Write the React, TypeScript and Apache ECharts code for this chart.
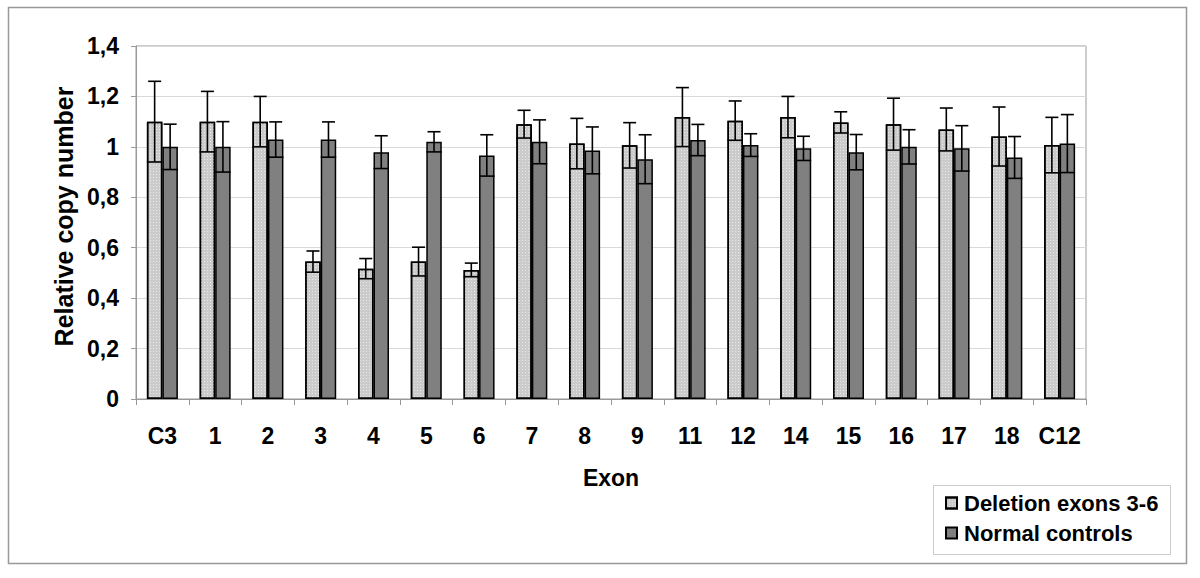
import React, { useEffect, useRef } from "react";
import * as echarts from "echarts";

const categories = ["C3", "1", "2", "3", "4", "5", "6", "7", "8", "9", "11", "12", "14", "15", "16", "17", "18", "C12"];
const deletionValues = [1.10, 1.10, 1.10, 0.545, 0.517, 0.545, 0.512, 1.09, 1.013, 1.006, 1.118, 1.104, 1.118, 1.097, 1.09, 1.069, 1.041, 1.007];
const deletionErrors = [0.16, 0.12, 0.10, 0.042, 0.04, 0.057, 0.027, 0.055, 0.10, 0.09, 0.117, 0.078, 0.082, 0.042, 0.103, 0.085, 0.117, 0.11];
const controlValues = [1.0, 1.0, 1.029, 1.029, 0.979, 1.02, 0.966, 1.02, 0.986, 0.951, 1.027, 1.007, 0.994, 0.979, 1.0, 0.994, 0.958, 1.013];
const controlErrors = [0.09, 0.10, 0.07, 0.07, 0.065, 0.04, 0.082, 0.087, 0.093, 0.097, 0.062, 0.045, 0.048, 0.07, 0.068, 0.09, 0.083, 0.115];
const yTicks = [0, 0.2, 0.4, 0.6, 0.8, 1, 1.2, 1.4];

const seriesNames = ["Deletion exons 3-6", "Normal controls"];
const FONT = "Liberation Sans, Arial, sans-serif";
const BAR_W = 15.5;

function errorSeries(values: number[], errors: number[], offset: number) {
  return {
    type: "custom",
    silent: true,
    z: 5,
    data: values.map((v, i) => [i, v, errors[i]]),
    renderItem: (params: any, api: any) => {
      const idx = api.value(0);
      const v = api.value(1);
      const e = api.value(2);
      const x = api.coord([idx, v])[0] + offset;
      const yHi = api.coord([idx, v + e])[1];
      const yLo = api.coord([idx, v - e])[1];
      const st = { stroke: "#000", lineWidth: 1.6 };
      return {
        type: "group",
        children: [
          { type: "line", shape: { x1: x, y1: yHi, x2: x, y2: yLo }, style: st },
          { type: "line", shape: { x1: x - 6.5, y1: yHi, x2: x + 6.5, y2: yHi }, style: st },
          { type: "line", shape: { x1: x - BAR_W / 2, y1: yLo, x2: x + BAR_W / 2, y2: yLo }, style: st },
        ],
      };
    },
  };
}

export default function App() {
  const ref = useRef<HTMLDivElement>(null);
  useEffect(() => {
    if (!ref.current) return;
    const chart = echarts.init(ref.current, null, { renderer: "svg" });
    chart.setOption({
      animation: false,
      backgroundColor: "#fff",
      grid: { left: 136, right: 114, top: 46, bottom: 179, show: true, borderColor: "#999", borderWidth: 1 },
      xAxis: {
        type: "category",
        data: categories,
        name: "Exon",
        nameLocation: "middle",
        nameGap: 67,
        nameTextStyle: { fontFamily: FONT, fontSize: 23, fontWeight: "bold", color: "#000" },
        axisLine: { lineStyle: { color: "#999", width: 1 } },
        axisTick: { show: true, interval: 0, length: 6, lineStyle: { color: "#999" } },
        axisLabel: { interval: 0, hideOverlap: false, fontFamily: FONT, fontSize: 23, fontWeight: "bold", color: "#000", margin: 25 },
      },
      yAxis: {
        type: "value",
        min: 0,
        max: 1.4,
        interval: 0.2,
        name: "Relative copy number",
        nameLocation: "middle",
        nameGap: 60,
        nameTextStyle: { fontFamily: FONT, fontSize: 25, fontWeight: "bold", color: "#000", padding: [0, 0, 0, 12] },
        axisLine: { show: true, lineStyle: { color: "#999", width: 1 } },
        axisTick: { show: true, length: 5, lineStyle: { color: "#999" } },
        splitLine: { lineStyle: { color: "#d9d9d9", width: 1 } },
        axisLabel: {
          fontFamily: FONT,
          fontSize: 23,
          fontWeight: "bold",
          color: "#000",
          margin: 17,
          formatter: (v: number) => {
            const t = yTicks.find((k) => Math.abs(k - v) < 1e-6);
            return String(Math.round((t ?? v) * 10) / 10).replace(".", ",");
          },
        },
      },
      legend: {
        data: seriesNames.map((n) => ({ name: n, icon: "rect" })),
        orient: "vertical",
        left: 945,
        top: 492,
        itemWidth: 11,
        itemHeight: 11,
        itemGap: 8,
        padding: 0,
        textStyle: { fontFamily: FONT, fontSize: 22, fontWeight: "bold", color: "#000", padding: [0, 0, 0, 2] },
      },
      graphic: [
        { type: "rect", shape: { x: 8.5, y: 7.5, width: 1178, height: 556 }, style: { fill: "none", stroke: "#999", lineWidth: 1.5 }, z: -10 },
        { type: "rect", shape: { x: 933.5, y: 485.5, width: 237, height: 69 }, style: { fill: "#fff", stroke: "#ccc", lineWidth: 1 }, z: -5 },
      ],
      series: [
        {
          name: seriesNames[0],
          type: "bar",
          data: deletionValues,
          barWidth: BAR_W,
          barGap: "0%",
          itemStyle: {
            color: "#cbcbcb",
            borderColor: "#000",
            borderWidth: 1.5,
            decal: {
              symbol: "rect",
              symbolSize: 1,
              color: "rgba(255,255,255,0.55)",
              dashArrayX: [1, 2],
              dashArrayY: [1, 2],
              rotation: 0,
            },
          },
        },
        {
          name: seriesNames[1],
          type: "bar",
          data: controlValues,
          barWidth: BAR_W,
          barGap: "0%",
          itemStyle: { color: "#808080", borderColor: "#000", borderWidth: 1.5 },
        },
        errorSeries(deletionValues, deletionErrors, -BAR_W / 2),
        errorSeries(controlValues, controlErrors, BAR_W / 2),
      ],
    });
    return () => chart.dispose();
  }, []);
  return <div ref={ref} style={{ position: "fixed", left: 0, top: 0, width: 1200, height: 578 }} />;
}
